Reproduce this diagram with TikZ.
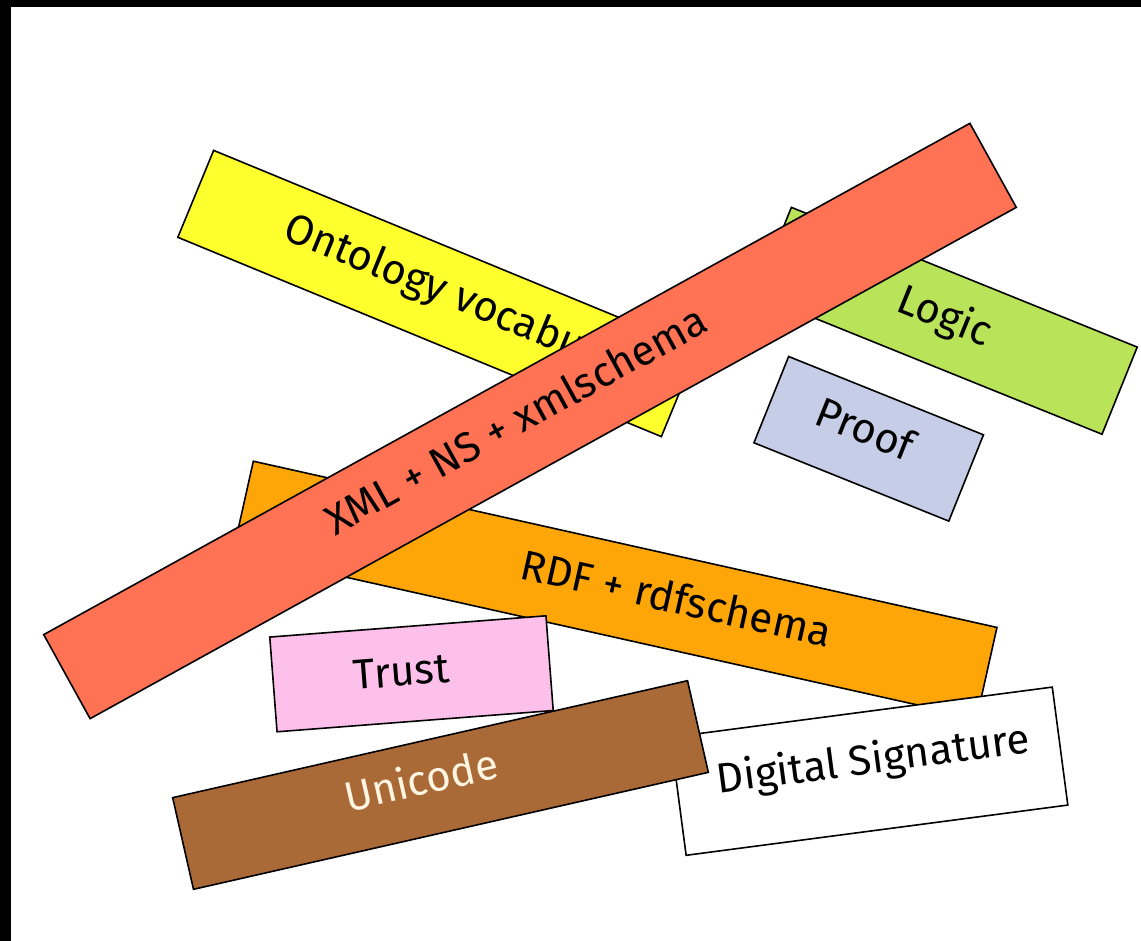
\documentclass[tikz,border=0pt]{standalone}
\usepackage{fontspec}
\setmainfont{Fira Sans}
\definecolor{cyel}{RGB}{255,255,45}
\definecolor{cred}{RGB}{255,114,84}
\definecolor{cgrn}{RGB}{185,228,90}
\definecolor{cprf}{RGB}{198,205,230}
\definecolor{corg}{RGB}{254,166,8}
\definecolor{cpnk}{RGB}{253,192,235}
\definecolor{cbrn}{RGB}{170,106,56}
\definecolor{ccrm}{RGB}{255,245,225}
\begin{document}
\begin{tikzpicture}[x=1pt,y=-1pt,
  band/.style={draw=black,line width=1.6pt,rectangle,inner sep=0pt,outer sep=0pt},
  lbl/.style={inner sep=0pt,font=\fontsize{42}{50}\selectfont,text height=1.2em,text depth=0em}]
\useasboundingbox (0,0) rectangle (1141,941);
\fill[white] (0,0) rectangle (1141,941);
\fill[black] (0,0) rectangle (1141,7);
\fill[black] (0,0) rectangle (11,941);
% yellow
\node[band, fill=cyel, minimum width=523pt, minimum height=94pt, rotate=-22.4] (onto) at (437.5,293.5) {};
\node[lbl, rotate=-22.4, anchor=west] (ontot) at (284,232.5) {Ontology vocabu};
% green
\node[band, fill=cgrn, minimum width=373pt, minimum height=94pt, rotate=-22] (logic) at (946.7,320.8) {};
\node[lbl, rotate=-22] (logict) at (942,323) {Logic};
% proof
\node[band, fill=cprf, minimum width=210pt, minimum height=93pt, rotate=-21.9] (proof) at (868.7,438.8) {};
\node[lbl, rotate=-21.9] (prooft) at (862,437) {Proof};
% orange
\node[band, fill=corg, minimum width=762pt, minimum height=93pt, rotate=-12.6] (rdf) at (615,589.7) {};
\node[lbl, rotate=-12.6] (rdft) at (674.4,607) {RDF + rdfschema};
% red
\node[band, fill=cred, minimum width=1058pt, minimum height=96pt, rotate=28.9] (xml) at (530,421) {};
\node[lbl, rotate=28.9] (xmlt) at (520,428) {XML + NS + xmlschema};
% trust
\node[band, fill=cpnk, minimum width=277pt, minimum height=95pt, rotate=4.4] (trust) at (411.5,673.8) {};
\node[lbl, rotate=4.4] (trustt) at (402,680) {Trust};
% digital signature
\node[band, fill=white, minimum width=385pt, minimum height=119pt, rotate=7.5] (ds) at (869.2,771.2) {};
\node[lbl, rotate=7.5] (dst) at (874,767) {Digital Signature};
% unicode
\node[band, fill=cbrn, minimum width=528pt, minimum height=94pt, rotate=12.8] (uni) at (440.5,785) {};
\node[lbl, rotate=12.8, text=ccrm] (unit) at (423,789) {Unicode};
\end{tikzpicture}
\end{document}
